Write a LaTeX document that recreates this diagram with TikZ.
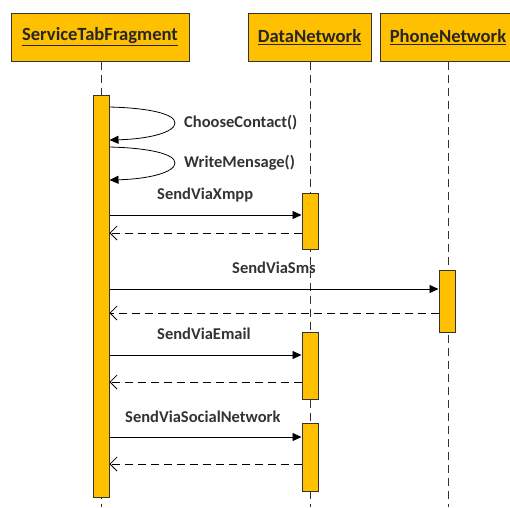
\documentclass[tikz,border=0pt]{standalone}
\usepackage{fontspec}
\setmainfont{Carlito}
\usetikzlibrary{arrows.meta,calc}
\definecolor{gold}{HTML}{FFC000}
\definecolor{edge}{HTML}{333333}
\begin{document}
\begin{tikzpicture}[x=1pt,y=-1pt,
  head/.style={draw=edge,fill=gold,line width=1pt,minimum height=48pt,inner sep=0pt,
    font=\bfseries\fontsize{18.6}{22}\selectfont,text=black!85},
  act/.style={draw=edge,fill=gold,line width=1pt,minimum width=16pt,inner sep=0pt},
  life/.style={dash pattern=on 8pt off 5pt,line width=0.8pt,draw=edge},
  msg/.style={-{Triangle[length=9pt,width=8pt]},line width=0.8pt},
  ret/.style={-{Straight Barb[length=7pt,width=14pt]},dash pattern=on 8pt off 5pt,line width=0.8pt},
  lbl/.style={font=\bfseries\fontsize{16.5}{19}\selectfont,anchor=west,inner sep=0pt,text=black!80}]
\useasboundingbox (0,0) rectangle (510,507);
\clip (0,0) rectangle (510,507);

% participants
\node[head,minimum width=178pt] (st) at (100,37) {\underline{ServiceTabFragment}};
\node[head,minimum width=123pt] (dn) at (309.5,37) {\underline{DataNetwork}};
\node[head,minimum width=136pt] (pn) at (448,37) {\underline{PhoneNetwork}};

% lifeline ends
\coordinate (stEnd) at (101,507);
\coordinate (dnEnd) at (310,507);
\coordinate (pnEnd) at (448,507);
\draw[life] (st.south -| stEnd) -- (stEnd);
\draw[life] (dn.south -| dnEnd) -- (dnEnd);
\draw[life] (pn.south -| pnEnd) -- (pnEnd);

% activation bars
\node[act,minimum height=402pt] (sa) at (101,296) {};
\node[act,minimum height=56pt] (da1) at (310,221) {};
\node[act,minimum height=62pt] (pa) at (447,301) {};
\node[act,minimum height=67pt] (da2) at (310,365.5) {};
\node[act,minimum height=68pt] (da3) at (310,457) {};

% message levels
\coordinate (c1a) at (0,107); \coordinate (c1b) at (0,140);
\coordinate (c2a) at (0,147); \coordinate (c2b) at (0,180);
\coordinate (y1) at (0,215); \coordinate (r1) at (0,233);
\coordinate (y2) at (0,289); \coordinate (r2) at (0,313);
\coordinate (y3) at (0,355); \coordinate (r3) at (0,382);
\coordinate (y4) at (0,437); \coordinate (r4) at (0,464);

% self calls
\draw[msg] (sa.east |- c1a) .. controls (150,108) and (175,114) .. (175,123)
  .. controls (175,132) and (150,139) .. (sa.east |- c1b);
\draw[msg] (sa.east |- c2a) .. controls (150,148) and (175,154) .. (175,163)
  .. controls (175,172) and (150,179) .. (sa.east |- c2b);
\node[lbl] (l1) at (184,123) {ChooseContact()};
\node[lbl] (l2) at (184,163) {WriteMensage()};

% calls and returns
\draw[msg] (sa.east |- y1) -- (da1.west |- y1);
\draw[ret] (da1.west |- r1) -- (sa.east |- r1);
\node[lbl] (l3) at (157,195) {SendViaXmpp};

\draw[msg] (sa.east |- y2) -- (pa.west |- y2);
\draw[ret] (pa.west |- r2) -- (sa.east |- r2);
\node[lbl] (l4) at (232,268) {SendViaSms};

\draw[msg] (sa.east |- y3) -- (da2.west |- y3);
\draw[ret] (da2.west |- r3) -- (sa.east |- r3);
\node[lbl] (l5) at (157,334) {SendViaEmail};

\draw[msg] (sa.east |- y4) -- (da3.west |- y4);
\draw[ret] (da3.west |- r4) -- (sa.east |- r4);
\node[lbl] (l6) at (125,417) {SendViaSocialNetwork};
\end{tikzpicture}
\end{document}
